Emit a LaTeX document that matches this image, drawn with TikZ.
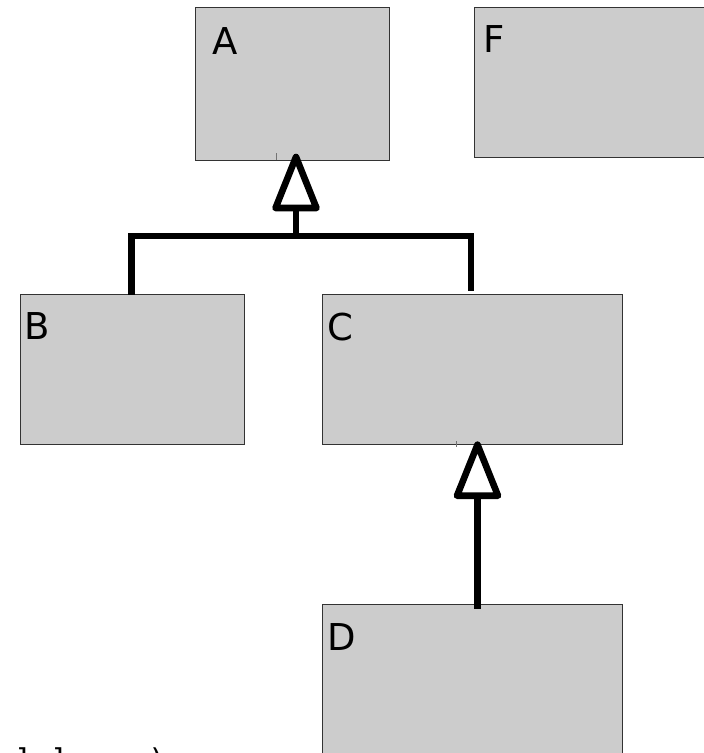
\documentclass[tikz,border=0pt]{standalone}
\usepackage{fontspec}
\setmainfont{DejaVu Sans}
\newfontfamily\monofnt{DejaVu Sans Mono}
\usetikzlibrary{calc}
\definecolor{boxgray}{HTML}{CCCCCC}
\definecolor{boxedge}{HTML}{333333}
\begin{document}
\begin{tikzpicture}[x=1pt,y=-1pt,
  box/.style={rectangle, fill=boxgray, draw=boxedge, line width=1pt, inner sep=0pt, outer sep=0pt, anchor=north west},
  lbl/.style={anchor=base west, inner sep=0pt, outer sep=0pt, font=\fontsize{37}{44}\selectfont},
  inh/.style={line width=6.6pt, line join=round, draw=black, fill=white},
  link/.style={line width=6.6pt, line join=miter, line cap=butt, draw=black},
  tickmark/.style={draw=black!55, line width=1pt}]
\useasboundingbox (0,0) rectangle (704,753);
% boxes
\node[box, minimum width=194pt, minimum height=153pt] (A) at (195,7) {};
\node[box, minimum width=250pt, minimum height=150pt] (F) at (474,7) {};
\node[box, minimum width=223.3pt, minimum height=149.3pt] (B) at (20.7,294.7) {};
\node[box, minimum width=300pt, minimum height=149.3pt] (C) at (322.7,294.7) {};
\node[box, minimum width=300pt, minimum height=220pt] (D) at (322.7,604.7) {};
% labels
\node[lbl] (lA) at (212,54) {A};
\node[lbl] (lF) at (483,52) {F};
\node[lbl] (lB) at (24.4,339) {B};
\node[lbl] (lC) at (327,340) {C};
\node[lbl] (lD) at (327,650) {D};
% small ticks
\draw[tickmark] ($(A.south west)+(81,0)$) -- ++(0,-7.5);
\draw[tickmark] ($(C.south west)+(134,-3)$) -- ++(0,6);
% generalization A <- B, C
\coordinate (bj) at ($(A.south)+(4,76)$);
\coordinate (bl) at (131.3,236);
\coordinate (br) at (471,236);
\coordinate (tA) at ($(A.south -| bj)+(0,-3)$);
\draw[link] (B.north -| bl) -- (bl) -- (br) -- ($(C.north -| br)+(0,-3.5)$);
\draw[link] ($(tA)+(0,51)$) -- (bj);
\draw[inh] (tA) -- ++(-20.5,51) -- ++(41,0) -- cycle;
% generalization C <- D
\coordinate (tC) at ($(C.south west)+(154.8,0.7)$);
\draw[link] ($(tC)+(0,51)$) -- ($(D.north -| tC)+(0,4.3)$);
\draw[inh] (tC) -- ++(-20.5,51) -- ++(41,0) -- cycle;
% clipped text at bottom
\node[anchor=base west, inner sep=0pt, outer sep=0pt, font=\monofnt\fontsize{30}{36}\selectfont] (txt) at (14,770) {]\hspace{18pt}]\hspace{80pt})};
\end{tikzpicture}
\end{document}
